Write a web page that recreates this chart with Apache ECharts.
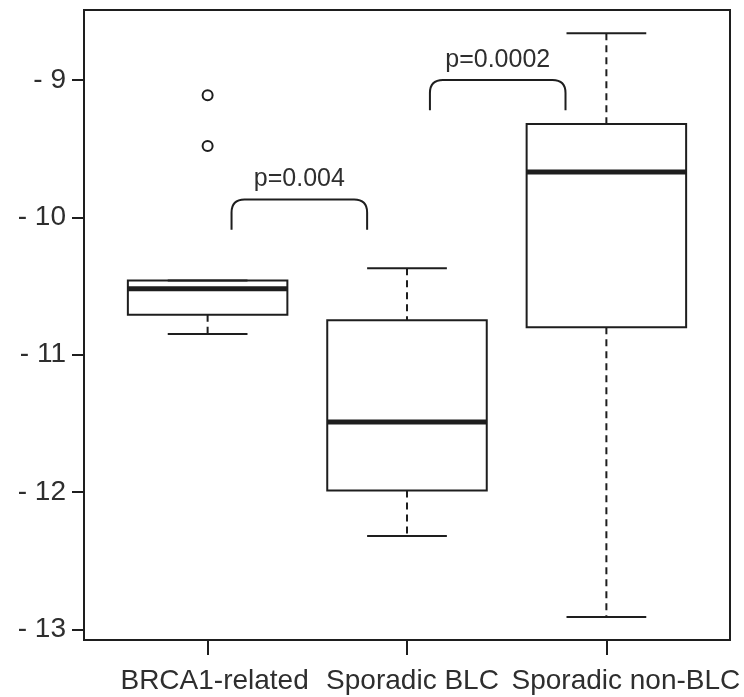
<!DOCTYPE html>
<html>
<head>
<meta charset="utf-8">
<script src="https://cdn.jsdelivr.net/npm/echarts@6/dist/echarts.min.js"></script>
<style>
  html, body { margin: 0; padding: 0; background: #fff; }
  #chart { width: 744px; height: 697px; }
</style>
</head>
<body>
<div id="chart"></div>
<script>
// groups along the x axis
var groups = ['BRCA1-related', 'Sporadic BLC', 'Sporadic non-BLC'];
var groupPos = [1, 2, 3];

// box statistics per group: [min, Q1, median, Q3, max]
var boxMin    = [-10.85, -12.32, -12.91];
var boxQ1     = [-10.71, -11.99, -10.80];
var boxMedian = [-10.52, -11.49, -9.67];
var boxQ3     = [-10.46, -10.75, -9.32];
var boxMax    = [-10.46, -10.37, -8.66];

// outliers (group position, value)
var outlierGroup = [1, 1];
var outlierValues = [-9.11, -9.48];

var yTicks = [-13, -12, -11, -10, -9];

// p-value brackets: x from / to (axis units), top and leg-end values
var pLabels = ['p=0.004', 'p=0.0002'];
var pFrom = [1.12, 2.115];
var pTo = [1.80, 2.795];
var pTop = [-9.87, -9.0];
var pBottom = [-10.09, -9.22];

var ink = '#1e1e1e';
var textInk = '#2e2e2e';
var font = '"Liberation Sans", Arial, sans-serif';

// the group names sit a little right of their ticks in the original (px)
var labelShift = [7, 5.5, 19.5];

function lineStyle(w, dashed) {
  var s = { stroke: ink, lineWidth: w, fill: null };
  if (dashed) s.lineDash = [7, 5];
  return s;
}

function renderBox(params, api) {
  var x = api.value(0);
  var half = api.size([0.8, 0])[0] / 2;
  var capHalf = half / 2;
  var pMin = api.coord([x, api.value(1)]);
  var pQ1 = api.coord([x, api.value(2)]);
  var pMed = api.coord([x, api.value(3)]);
  var pQ3 = api.coord([x, api.value(4)]);
  var pMax = api.coord([x, api.value(5)]);
  var cx = pMed[0];
  return {
    type: 'group',
    children: [
      { type: 'line', shape: { x1: cx, y1: pMax[1], x2: cx, y2: pQ3[1] }, style: lineStyle(2, true) },
      { type: 'line', shape: { x1: cx, y1: pQ1[1], x2: cx, y2: pMin[1] }, style: lineStyle(2, true) },
      { type: 'line', shape: { x1: cx - capHalf, y1: pMax[1], x2: cx + capHalf, y2: pMax[1] }, style: lineStyle(2) },
      { type: 'line', shape: { x1: cx - capHalf, y1: pMin[1], x2: cx + capHalf, y2: pMin[1] }, style: lineStyle(2) },
      { type: 'rect', shape: { x: cx - half, y: pQ3[1], width: half * 2, height: pQ1[1] - pQ3[1] }, style: lineStyle(2) },
      { type: 'line', shape: { x1: cx - half, y1: pMed[1], x2: cx + half, y2: pMed[1] }, style: lineStyle(5) }
    ]
  };
}

function renderBracket(params, api) {
  var a = api.coord([api.value(0), api.value(2)]);
  var b = api.coord([api.value(1), api.value(3)]);
  var x1 = a[0], x2 = b[0], yt = a[1], yb = b[1];
  var r = 13;
  var path = 'M' + x1 + ' ' + yb +
    ' L' + x1 + ' ' + (yt + r) +
    ' Q' + x1 + ' ' + yt + ' ' + (x1 + r) + ' ' + yt +
    ' L' + (x2 - r) + ' ' + yt +
    ' Q' + x2 + ' ' + yt + ' ' + x2 + ' ' + (yt + r) +
    ' L' + x2 + ' ' + yb;
  return {
    type: 'group',
    children: [
      { type: 'path', shape: { pathData: path }, style: lineStyle(2) },
      {
        type: 'text',
        style: {
          text: pLabels[params.dataIndex],
          x: (x1 + x2) / 2,
          y: yt - 20,
          align: 'center',
          verticalAlign: 'middle',
          font: '25px ' + font,
          fill: textInk
        }
      }
    ]
  };
}

var chart = echarts.init(document.getElementById('chart'));

var boxData = groupPos.map(function (g, i) {
  return [g, boxMin[i], boxQ1[i], boxMedian[i], boxQ3[i], boxMax[i]];
});
var outlierData = outlierGroup.map(function (g, i) { return [g, outlierValues[i]]; });
var bracketData = pLabels.map(function (t, i) {
  return [pFrom[i], pTo[i], pTop[i], pBottom[i]];
});

// left padding of twice the shift moves a centred label right by the shift
var richLabels = {};
groups.forEach(function (g, i) {
  richLabels['g' + i] = {
    padding: [0, 0, 0, labelShift[i] * 2],
    fontSize: 28,
    fontFamily: font,
    color: textInk
  };
});

chart.setOption({
  animation: false,
  backgroundColor: '#fff',
  grid: {
    left: 84, right: 14, top: 10, bottom: 57,
    containLabel: false,
    outerBoundsMode: 'none',
    show: true, borderColor: ink, borderWidth: 2, backgroundColor: 'transparent'
  },
  xAxis: {
    type: 'value',
    min: 0.38,
    max: 3.62,
    axisLine: { show: false },
    splitLine: { show: false },
    axisTick: { show: true, length: 15, customValues: groupPos, lineStyle: { color: ink, width: 2 } },
    axisLabel: {
      customValues: groupPos,
      hideOverlap: false,
      formatter: function (v) {
        var i = groupPos.indexOf(v);
        return '{g' + i + '|' + groups[i] + '}';
      },
      rich: richLabels,
      margin: 27,
      color: textInk,
      fontSize: 28,
      fontFamily: font
    }
  },
  yAxis: {
    type: 'value',
    min: -13.078,
    max: -8.49,
    axisLine: { show: false },
    splitLine: { show: false },
    axisTick: { show: true, length: 12, customValues: yTicks, lineStyle: { color: ink, width: 2 } },
    axisLabel: {
      customValues: yTicks,
      formatter: function (v) { return '- ' + Math.abs(v); },
      margin: 18,
      color: textInk,
      fontSize: 28,
      fontFamily: font
    }
  },
  series: [
    {
      type: 'custom',
      renderItem: renderBox,
      encode: { x: 0, y: [1, 2, 3, 4, 5] },
      data: boxData,
      silent: true
    },
    {
      type: 'scatter',
      data: outlierData,
      symbol: 'circle',
      symbolSize: 10,
      itemStyle: { color: '#fff', borderColor: ink, borderWidth: 2, opacity: 1 },
      silent: true
    },
    {
      type: 'custom',
      renderItem: renderBracket,
      encode: { x: [0, 1], y: [2, 3] },
      data: bracketData,
      silent: true
    }
  ]
});
</script>
</body>
</html>
